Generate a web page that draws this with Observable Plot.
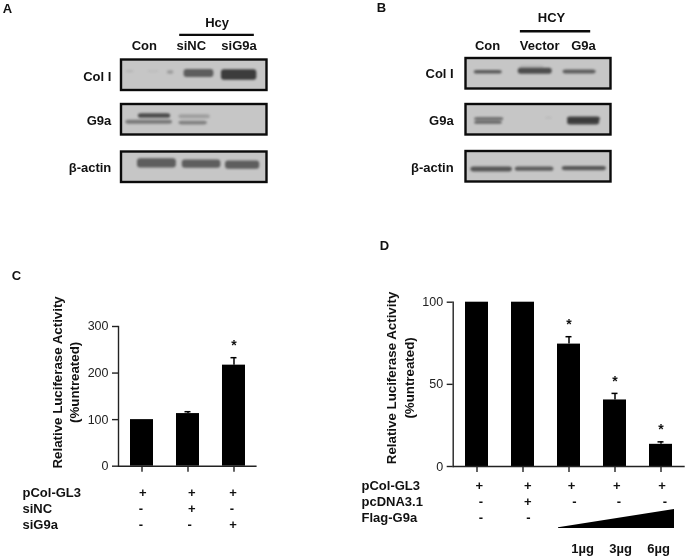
<!DOCTYPE html>
<html>
<head>
<meta charset="utf-8">
<script src="https://cdn.jsdelivr.net/npm/d3@7"></script>
<script src="https://cdn.jsdelivr.net/npm/@observablehq/plot@0.6"></script>
<style>
html,body{margin:0;padding:0;background:#fff}
#page{position:relative;width:687px;height:557px;overflow:hidden;filter:blur(0.35px)}
</style>
</head>
<body>
<div id="page"></div>
<script>
const INK = "#111";
const FONT = "'Liberation Sans', Arial, sans-serif";

// Panel letters
const letters = ["A", "B", "C", "D"];
const letterX = [7, 381, 16, 384];
const letterY = [8, 7, 275, 245];

// Panel C
const cGroups = ["Control", "siNC", "siG9a"];
const cValues = [100, 113, 217];
const cErrorTop = [100, 117, 233];
const cStars = ["", "", "*"];
const cTicks = [0, 100, 200, 300];
const cRows = ["pCol-GL3", "siNC", "siG9a"];
const cSigns = [["+", "-", "-"], ["+", "+", "-"], ["+", "-", "+"]];

// Panel D
const dGroups = ["pCol-GL3", "pcDNA3.1", "1µg", "3µg", "6µg"];
const dValues = [100, 100, 74.5, 40.5, 13.5];
const dErrorTop = [100, 100, 79, 44.5, 15];
const dStars = ["", "", "*", "*", "*"];
const dTicks = [0, 50, 100];
const dRows = ["pCol-GL3", "pcDNA3.1", "Flag-G9a"];
const dSigns = [["+", "-", "-"], ["+", "+", "-"], ["+", "-", ""], ["+", "-", ""], ["+", "-", ""]];
const doses = ["1µg", "3µg", "6µg"];
const wedgeDose = [0, 1];
const wedgeHeight = [0.04, 1];

const axisTitle = ["Relative Luciferase Activity", "(%untreated)"];

// Blots: lane label, header, strip name
const aLanes = ["Con", "siNC", "siG9a"];
const aLaneAt = [15.7, 48, 80.8];
const bLanes = ["Con", "Vector", "G9a"];
const bLaneAt = [14.9, 50.8, 81];
const stripNames = ["Col I", "G9a", "β-actin"];

// Bands: strip, lane start %, lane end %, centre %, thickness %, darkness
const aBands = [
  [0, 3, 8.7, 38, 7, .10], [0, 18, 26, 38, 7, .06], [0, 31.5, 36, 41, 13, .25],
  [0, 43, 63.5, 44, 26, .68], [0, 68.7, 93, 49, 34, .9],
  [1, 11.6, 33.8, 37.5, 15, .8], [1, 3, 35, 58, 13, .5],
  [1, 39.5, 61, 40, 13, .25], [1, 39.5, 59, 61, 12, .45],
  [2, 11, 37.7, 37.5, 30, .68], [2, 41.8, 68.3, 40, 27, .68], [2, 71.5, 95, 43, 27, .68]
];
const bBands = [
  [0, 5.7, 25, 45, 12, .7], [0, 36, 59.5, 42, 20, .78], [0, 37, 54, 28, 7, .15], [0, 67, 89.7, 44, 13, .68],
  [1, 6, 26, 48, 10, .55], [1, 6, 25, 60, 10, .62], [1, 55, 59.5, 45, 4, .12],
  [1, 70, 92.7, 48, 14, .85], [1, 70, 92.2, 59, 16, .85],
  [2, 3.4, 32, 59, 16, .72], [2, 34, 60.6, 58, 14, .68], [2, 66.4, 96.8, 56, 14, .72]
];

const page = document.getElementById("page");
const place = (left, top) => ({position: "absolute", left: left + "px", top: top + "px", background: "transparent", fontFamily: FONT, overflow: "visible"});

// Overlay with the panel letters
page.append(Plot.plot({
  width: 687, height: 557, margin: 0, style: place(0, 0),
  x: {type: "identity", axis: null}, y: {type: "identity", axis: null},
  marks: [Plot.text(letters, {x: (d, i) => letterX[i], y: (d, i) => letterY[i], text: d => d, fontSize: 13, fontWeight: "bold", fill: INK})]
}));

function blotPanel({left, frameLeft, frameRight, stripTops, stripH, lanes, laneAt, header, headerAt, headerY, barFrom, barTo, barY, bands, labelEnd, labelYs}) {
  const width = 330, height = 190;
  const strips = stripNames.map((name, i) => ({name, y1: stripTops[i], y2: stripTops[i] + stripH, ly: labelYs[i]}));
  const bandRows = bands.map(([s, a, b, c, t, op]) => ({
    a, b, op,
    y1: stripTops[s] + (c - t / 2) / 100 * stripH,
    y2: stripTops[s] + (c + t / 2) / 100 * stripH
  }));
  return Plot.plot({
    width, height, margin: 0, style: place(left, 0),
    x: {domain: [0, 100], range: [frameLeft - left, frameRight - left], axis: null},
    y: {domain: [0, height], range: [0, height], axis: null},
    marks: [
      Plot.rect(strips, {x1: () => 0, x2: () => 100, y1: "y1", y2: "y2", fill: "#c6c6c6"}),
      Plot.rect(bandRows, {x1: "a", x2: "b", y1: "y1", y2: "y2", rx: 3, fill: "#2c2c2c", fillOpacity: {value: "op", scale: null}, imageFilter: "blur(1.3px)"}),
      Plot.rect(strips, {x1: () => 0, x2: () => 100, y1: "y1", y2: "y2", fill: "none", stroke: "#0b0b0b", strokeWidth: 2.4}),
      Plot.text(strips, {x: () => labelEnd, y: "ly", text: "name", textAnchor: "end", fontSize: 13, fontWeight: "bold", fill: INK}),
      Plot.text(lanes, {x: (d, i) => laneAt[i], y: () => 45, text: d => d, fontSize: 13, fontWeight: "bold", fill: INK}),
      Plot.text([header], {x: () => headerAt, y: () => headerY, text: d => d, fontSize: 13, fontWeight: "bold", fill: INK}),
      Plot.ruleY([barY], {x1: barFrom, x2: barTo, stroke: "#0b0b0b", strokeWidth: 2.4})
    ]
  });
}

page.append(blotPanel({
  left: 0, frameLeft: 121, frameRight: 266.5, stripTops: [59.5, 104, 151.5], stripH: 30.5,
  lanes: aLanes, laneAt: aLaneAt, header: "Hcy", headerAt: 65.7, headerY: 22,
  barFrom: 40, barTo: 91.3, barY: 34.4, bands: aBands, labelEnd: -7, labelYs: [76, 120, 167]
}));
page.append(blotPanel({
  left: 350, frameLeft: 465.5, frameRight: 610.5, stripTops: [58, 104, 151], stripH: 30.5,
  lanes: bLanes, laneAt: bLaneAt, header: "HCY", headerAt: 59, headerY: 17.5,
  barFrom: 37.5, barTo: 86, barY: 30.7, bands: bBands, labelEnd: -8.5, labelYs: [73, 120, 167]
}));

function barChart({left, top, width, axisX, axisEnd, zeroY, topY, groups, values, errorTop, stars, ticks, maxV, titleAt, titleDx, padding}) {
  const height = zeroY - top + 12;
  const rows = groups.map((g, i) => ({g, v: values[i], t: errorTop[i], s: stars[i]}));
  return Plot.plot({
    width, height, style: place(left, top),
    marginLeft: axisX - left, marginRight: left + width - axisEnd, marginTop: topY - top, marginBottom: 12,
    x: {domain: groups, type: "band", paddingInner: padding, paddingOuter: padding / 2, axis: null},
    y: {domain: [0, maxV], axis: null},
    marks: [
      Plot.barY(rows, {x: "g", y: "v", fill: "#000"}),
      Plot.ruleX(rows.filter(d => d.t > d.v), {x: "g", y1: "v", y2: "t", stroke: "#000", strokeWidth: 1.5}),
      Plot.tickY(rows.filter(d => d.t > d.v), {x: "g", y: "t", stroke: "#000", strokeWidth: 1.5, insetLeft: 8.5, insetRight: 8.5}),
      Plot.text(rows.filter(d => d.s), {x: "g", y: "t", text: "s", dy: -12, fontSize: 14, fontWeight: "bold", fill: INK}),
      Plot.ruleY([0], {stroke: "#222", strokeWidth: 1.4}),
      Plot.frame({anchor: "left", stroke: "#222", strokeWidth: 1.4}),
      Plot.axisY({ticks, tickSize: 6, tickPadding: 4, fontSize: 12.5, label: null, stroke: "#222", strokeWidth: 1.4, fill: "#222"}),
      Plot.axisX({tickSize: 6, label: null, stroke: "#222", strokeWidth: 1.4, fill: "none"}),
      Plot.text([axisTitle[0]], {frameAnchor: "left", y: () => titleAt, dx: titleDx[0], text: d => d, rotate: -90, textAnchor: "middle", fontSize: 13.3, fontWeight: "bold", fill: INK}),
      Plot.text([axisTitle[1]], {frameAnchor: "left", y: () => titleAt, dx: titleDx[1], text: d => d, rotate: -90, textAnchor: "middle", fontSize: 13.3, fontWeight: "bold", fill: INK})
    ]
  });
}

function signTable({left, top, width, axisX, axisEnd, groups, signs, rows, rowYs, labelDx, padding, plusNudge, minusNudge}) {
  const height = 50;
  const cells = groups.flatMap((g, c) => rows.map((r, k) => ({g, r, s: signs[c][k], c}))).filter(d => d.s);
  const nudged = (sym, nudge) => nudge.map((n, c) =>
    Plot.text(cells.filter(d => d.c === c && d.s === sym), {x: "g", y: "r", text: "s", dx: n, fontSize: 13, fontWeight: "bold", fill: INK}));
  return Plot.plot({
    width, height, style: place(left, top),
    marginLeft: axisX - left, marginRight: left + width - axisEnd, marginTop: 0, marginBottom: 0,
    x: {domain: groups, type: "band", paddingInner: padding, paddingOuter: padding / 2, axis: null},
    y: {domain: rows, type: "point", padding: 0, range: rowYs, axis: null},
    marks: [
      ...nudged("+", plusNudge),
      ...nudged("-", minusNudge),
      Plot.text(rows, {frameAnchor: "left", y: d => d, dx: labelDx, text: d => d, textAnchor: "start", fontSize: 13, fontWeight: "bold", fill: INK})
    ]
  });
}

// Panel C
page.append(barChart({
  left: 0, top: 320, width: 270, axisX: 118, axisEnd: 256.6, zeroY: 465.7, topY: 326,
  groups: cGroups, values: cValues, errorTop: cErrorTop, stars: cStars, ticks: cTicks, maxV: 300,
  titleAt: 180, titleDx: [-61, -44], padding: 0.49
}));
page.append(signTable({
  left: 0, top: 485, width: 270, axisX: 118, axisEnd: 256.6, groups: cGroups, signs: cSigns, rows: cRows,
  rowYs: [6.7, 39], labelDx: -96, padding: 0.49, plusNudge: [0.7, 3.7, -1], minusNudge: [-1, 1.7, -2]
}));

// Panel D
page.append(barChart({
  left: 352, top: 296, width: 335, axisX: 452.7, axisEnd: 684.7, zeroY: 466, topY: 301.7,
  groups: dGroups, values: dValues, errorTop: dErrorTop, stars: dStars, ticks: dTicks, maxV: 100,
  titleAt: 53.9, titleDx: [-61, -43.4], padding: 0.49
}));
page.append(signTable({
  left: 352, top: 478, width: 335, axisX: 452.7, axisEnd: 684.7, groups: dGroups, signs: dSigns, rows: dRows,
  rowYs: [7, 39.7], labelDx: -91.7, padding: 0.49, plusNudge: [2.2, 4.7, 2.6, 1.7, 1], minusNudge: [3.8, 5.3, 5.3, 4, 4]
}));

// Dose wedge and dose labels
page.append(Plot.plot({
  width: 116, height: 19, margin: 0, style: place(558, 509),
  x: {domain: [0, 1], axis: null}, y: {domain: [0, 1], axis: null},
  marks: [Plot.areaY(wedgeDose, {x: d => d, y: (d, i) => wedgeHeight[i], fill: "#000"})]
}));
page.append(Plot.plot({
  width: 120, height: 20, margin: 0, style: place(560, 538),
  x: {type: "point", domain: doses, padding: 0, range: [21.7, 98.7], axis: null},
  marks: [Plot.text(doses, {x: d => d, frameAnchor: "middle", text: d => d, fontSize: 13, fontWeight: "bold", fill: INK})]
}));
</script>
</body>
</html>
